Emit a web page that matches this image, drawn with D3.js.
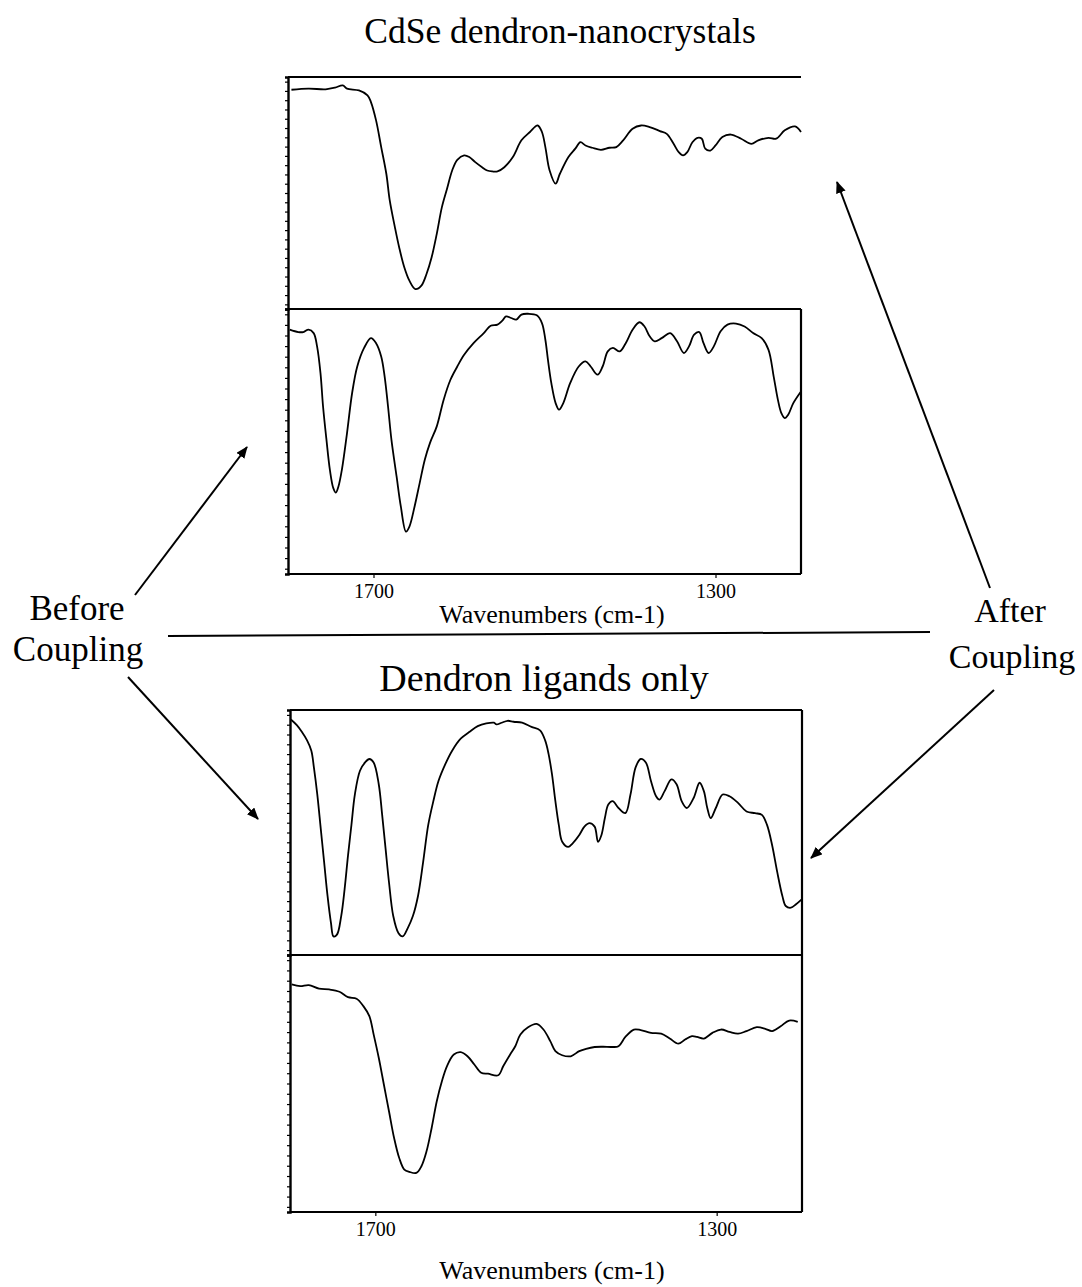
<!DOCTYPE html>
<html>
<head>
<meta charset="utf-8">
<script src="https://cdn.jsdelivr.net/npm/d3@7"></script>
<style>
  html, body { margin: 0; padding: 0; background: #fff; }
  svg { display: block; }
  text { font-family: "Liberation Serif", "Times New Roman", serif; fill: #000; }
</style>
</head>
<body>
<svg id="chart" width="1082" height="1287"></svg>
<script>
// wavenumber range shown on every panel (cm-1), high to low
const wnDomain = [1800, 1200];
const xTickValues = [1700, 1300];

// CdSe dendron-nanocrystals, after coupling  [wavenumber, %T]
const cdseAfter = [
  [1796, 94.5], [1776, 95.0], [1756, 94.7], [1745, 95.4], [1736, 96.4], [1731, 95.0],
  [1717, 94.2], [1707, 92.1], [1703, 89.2], [1697, 81.3], [1691, 69.8], [1685, 58.3],
  [1681, 46.8], [1675, 35.3], [1670, 26.6], [1664, 18.0], [1658, 12.2], [1651, 8.6],
  [1644, 10.1], [1638, 15.1], [1632, 22.3], [1626, 32.4], [1620, 43.9], [1614, 51.8],
  [1608, 59.7], [1602, 64.3], [1594, 66.2], [1588, 65.5], [1581, 63.3], [1573, 61.1],
  [1567, 59.7], [1561, 59.3], [1555, 59.3], [1547, 61.1], [1537, 65.5], [1527, 72.7],
  [1517, 76.3], [1508, 79.1], [1503, 76.3], [1499, 69.8], [1494, 59.7], [1487, 54.0],
  [1482, 58.3], [1472, 65.5], [1464, 69.1], [1458, 71.9], [1452, 70.5], [1444, 69.5],
  [1434, 68.6], [1424, 69.5], [1416, 69.8], [1408, 72.7], [1397, 77.7], [1387, 79.1],
  [1377, 78.4], [1365, 76.7], [1357, 75.5], [1349, 71.2], [1343, 67.6], [1338, 66.2],
  [1333, 67.6], [1327, 71.9], [1321, 73.8], [1316, 73.4], [1312, 69.1], [1306, 68.3],
  [1300, 70.5], [1292, 74.1], [1282, 75.2], [1270, 73.4], [1258, 71.2], [1250, 72.7],
  [1238, 73.8], [1229, 73.4], [1219, 77.0], [1207, 78.7], [1200, 76.3]
];

// CdSe dendron-nanocrystals, before coupling
const cdseBefore = [
  [1798, 92.2], [1788, 91.3], [1782, 91.3], [1776, 92.2], [1770, 90.9], [1766, 85.9],
  [1762, 75.8], [1759, 63.2], [1755, 50.6], [1751, 39.3], [1747, 32.4], [1744, 30.7],
  [1741, 33.0], [1737, 39.3], [1731, 53.1], [1725, 68.3], [1719, 78.3], [1711, 85.3],
  [1703, 89.0], [1697, 87.1], [1691, 82.1], [1687, 74.6], [1683, 63.2], [1679, 50.6],
  [1673, 36.8], [1668, 25.4], [1662, 16.0], [1658, 17.9], [1652, 25.4], [1646, 34.3],
  [1640, 43.1], [1634, 49.4], [1626, 55.7], [1618, 65.7], [1610, 73.3], [1602, 78.3],
  [1594, 82.7], [1583, 87.1], [1571, 90.9], [1563, 93.7], [1555, 94.1], [1549, 95.7],
  [1545, 97.2], [1539, 96.6], [1533, 96.0], [1527, 97.9], [1519, 98.2], [1509, 97.6],
  [1503, 94.7], [1499, 88.4], [1496, 80.9], [1492, 72.0], [1487, 64.5], [1483, 62.0],
  [1478, 64.5], [1470, 72.0], [1460, 78.3], [1452, 80.2], [1446, 78.3], [1438, 75.2],
  [1432, 78.3], [1426, 84.0], [1420, 85.3], [1412, 84.0], [1405, 87.1], [1397, 92.2],
  [1389, 95.0], [1383, 93.4], [1377, 89.7], [1371, 87.8], [1363, 89.0], [1353, 90.9],
  [1345, 87.8], [1337, 83.4], [1331, 85.9], [1325, 90.3], [1319, 91.3], [1314, 87.1],
  [1308, 83.4], [1302, 85.9], [1294, 91.6], [1286, 94.1], [1276, 94.5], [1266, 93.4],
  [1256, 90.9], [1246, 89.0], [1238, 84.6], [1232, 74.6], [1227, 65.7], [1223, 60.7],
  [1219, 58.8], [1215, 60.1], [1209, 64.5], [1200, 68.9]
];

// Dendron ligands only, before coupling
const dendronBefore = [
  [1799, 96.1], [1792, 93.8], [1786, 91.0], [1780, 87.6], [1775, 83.4], [1772, 76.6],
  [1768, 65.5], [1764, 51.7], [1760, 37.9], [1756, 24.1], [1752, 13.1], [1749, 7.6],
  [1745, 8.3], [1740, 15.9], [1736, 26.9], [1732, 40.7], [1728, 53.1], [1724, 65.5],
  [1718, 75.2], [1712, 78.6], [1707, 80.0], [1702, 78.6], [1696, 69.7], [1692, 57.2],
  [1688, 43.4], [1684, 29.7], [1679, 15.9], [1673, 9.0], [1668, 7.6], [1662, 11.0],
  [1656, 15.9], [1650, 24.1], [1644, 37.9], [1638, 53.1], [1632, 62.8], [1626, 71.0],
  [1618, 77.9], [1610, 83.4], [1600, 88.3], [1590, 91.0], [1580, 93.4], [1570, 94.5],
  [1561, 94.8], [1558, 94.1], [1552, 94.8], [1545, 95.6], [1538, 95.2], [1528, 94.8],
  [1517, 93.1], [1507, 91.7], [1501, 87.6], [1497, 82.1], [1493, 73.8], [1489, 62.8],
  [1485, 53.1], [1481, 46.2], [1474, 44.1], [1469, 45.5], [1461, 49.0], [1455, 52.4],
  [1449, 53.8], [1443, 52.4], [1439, 46.2], [1435, 49.0], [1431, 55.9], [1427, 61.4],
  [1422, 62.8], [1415, 60.0], [1407, 57.9], [1401, 65.5], [1395, 76.6], [1389, 80.0],
  [1383, 78.6], [1377, 71.0], [1371, 64.8], [1367, 63.4], [1361, 66.9], [1353, 71.7],
  [1347, 69.7], [1341, 62.8], [1335, 60.0], [1327, 64.1], [1320, 70.3], [1315, 66.9],
  [1311, 60.0], [1307, 55.9], [1301, 60.0], [1293, 65.5], [1285, 64.8], [1275, 62.1],
  [1265, 58.6], [1255, 57.9], [1247, 57.2], [1241, 53.1], [1235, 44.8], [1229, 33.8],
  [1223, 24.1], [1219, 20.0], [1213, 19.3], [1207, 20.7], [1200, 22.8]
];

// Dendron ligands only, after coupling
const dendronAfter = [
  [1798, 88.6], [1788, 87.9], [1778, 88.3], [1766, 86.9], [1754, 86.6], [1742, 85.7],
  [1732, 83.6], [1722, 83.0], [1714, 80.1], [1707, 76.2], [1702, 69.1], [1696, 60.0],
  [1690, 49.6], [1684, 39.2], [1678, 28.8], [1672, 21.0], [1666, 16.5], [1660, 15.6],
  [1652, 15.2], [1646, 17.8], [1640, 23.6], [1634, 32.7], [1628, 43.1], [1622, 50.9],
  [1616, 56.8], [1608, 61.3], [1600, 62.2], [1592, 60.6], [1584, 57.4], [1576, 54.2],
  [1568, 53.8], [1556, 53.2], [1550, 56.8], [1542, 61.3], [1536, 64.5], [1530, 69.1],
  [1521, 71.9], [1511, 73.2], [1503, 71.0], [1495, 66.5], [1489, 62.6], [1481, 61.0],
  [1471, 60.6], [1461, 62.6], [1453, 63.5], [1443, 64.2], [1433, 64.3], [1423, 64.2],
  [1415, 64.5], [1407, 68.1], [1397, 71.0], [1389, 70.8], [1377, 69.7], [1365, 69.4],
  [1355, 67.5], [1345, 65.5], [1337, 67.1], [1329, 68.4], [1323, 68.1], [1315, 67.5],
  [1305, 69.7], [1295, 71.0], [1285, 70.1], [1275, 69.4], [1265, 70.4], [1253, 71.9],
  [1243, 71.3], [1235, 70.4], [1225, 72.3], [1215, 74.5], [1205, 74.0]
];

const svg = d3.select("#chart");

// arrowhead marker
svg.append("defs").append("marker")
  .attr("id", "arrow")
  .attr("viewBox", "0 0 12 10")
  .attr("refX", 11).attr("refY", 5)
  .attr("markerWidth", 12).attr("markerHeight", 10)
  .attr("markerUnits", "userSpaceOnUse")
  .attr("orient", "auto")
  .append("path")
  .attr("d", "M0,0 L12,5 L0,10 Z")
  .attr("fill", "#000");

// draw one spectrum panel
function drawPanel(data, box, opts) {
  const x = d3.scaleLinear().domain(wnDomain).range([box.left, box.right]);
  const y = d3.scaleLinear().domain([0, 100]).range([box.bottom, box.top]);
  const g = svg.append("g");

  // frame
  const sides = opts.sides;
  if (sides.includes("top"))
    g.append("line").attr("x1", box.left).attr("x2", box.right).attr("y1", box.top).attr("y2", box.top);
  if (sides.includes("right"))
    g.append("line").attr("x1", box.right).attr("x2", box.right).attr("y1", box.top).attr("y2", box.bottom);
  if (sides.includes("bottom"))
    g.append("line").attr("x1", box.left).attr("x2", box.right).attr("y1", box.bottom).attr("y2", box.bottom);
  g.selectAll("line").attr("stroke", "#000").attr("stroke-width", 2.2);

  // left axis with dense unlabeled ticks
  const yAxis = d3.axisLeft(y).tickValues(d3.range(2, 100, 4)).tickSize(3).tickFormat("");
  const ya = g.append("g").attr("transform", `translate(${box.left},0)`).call(yAxis);
  ya.select(".domain").attr("stroke-width", 2.4);
  ya.selectAll(".tick line").attr("stroke-width", 1.2);

  if (opts.xAxis) {
    const xAxis = d3.axisBottom(x).tickValues(xTickValues).tickSize(4).tickPadding(6).tickFormat(d3.format("d"));
    const xa = g.append("g").attr("transform", `translate(0,${box.bottom})`).call(xAxis);
    xa.select(".domain").remove();
    xa.selectAll(".tick line").attr("stroke-width", 1.2);
    xa.selectAll(".tick text")
      .attr("font-size", 20)
      .style("font-family", '"Liberation Serif", "Times New Roman", serif');
  }

  const line = d3.line()
    .x(d => x(d[0]))
    .y(d => y(d[1]))
    .curve(d3.curveCatmullRom.alpha(0.5));

  g.append("path")
    .datum(data)
    .attr("fill", "none")
    .attr("stroke", "#000")
    .attr("stroke-width", 1.8)
    .attr("stroke-linejoin", "round")
    .attr("d", line);
}

// top figure
drawPanel(cdseAfter, { left: 288, right: 801, top: 77, bottom: 309 }, { sides: ["top", "bottom"], xAxis: false });
drawPanel(cdseBefore, { left: 288, right: 801, top: 309, bottom: 574 }, { sides: ["top", "right", "bottom"], xAxis: true });

// bottom figure
drawPanel(dendronBefore, { left: 290, right: 802, top: 710, bottom: 955 }, { sides: ["top", "right", "bottom"], xAxis: false });
drawPanel(dendronAfter, { left: 290, right: 802, top: 955, bottom: 1212 }, { sides: ["top", "right", "bottom"], xAxis: true });

// titles
svg.append("text").attr("x", 560).attr("y", 43).attr("text-anchor", "middle")
  .attr("font-size", 35.5).text("CdSe dendron-nanocrystals");
svg.append("text").attr("x", 544).attr("y", 691).attr("text-anchor", "middle")
  .attr("font-size", 38).text("Dendron ligands only");
svg.append("text").attr("x", 552).attr("y", 623).attr("text-anchor", "middle")
  .attr("font-size", 26).text("Wavenumbers (cm-1)");
svg.append("text").attr("x", 552).attr("y", 1279).attr("text-anchor", "middle")
  .attr("font-size", 26).text("Wavenumbers (cm-1)");

// side labels
svg.append("text").attr("x", 77).attr("y", 620).attr("text-anchor", "middle").attr("font-size", 35).text("Before");
svg.append("text").attr("x", 78).attr("y", 661).attr("text-anchor", "middle").attr("font-size", 35).text("Coupling");
svg.append("text").attr("x", 1010).attr("y", 622).attr("text-anchor", "middle").attr("font-size", 34).text("After");
svg.append("text").attr("x", 1012).attr("y", 668).attr("text-anchor", "middle").attr("font-size", 34).text("Coupling");

// divider between the two figures
svg.append("line").attr("x1", 168).attr("y1", 636).attr("x2", 930).attr("y2", 632)
  .attr("stroke", "#000").attr("stroke-width", 2);

// arrows
const arrows = [
  [135, 595, 247, 447],
  [128, 677, 258, 819],
  [990, 588, 837, 182],
  [994, 690, 811, 858]
];
svg.selectAll(".arrow").data(arrows).enter().append("line")
  .attr("class", "arrow")
  .attr("x1", d => d[0]).attr("y1", d => d[1])
  .attr("x2", d => d[2]).attr("y2", d => d[3])
  .attr("stroke", "#000").attr("stroke-width", 2)
  .attr("marker-end", "url(#arrow)");
</script>
</body>
</html>
